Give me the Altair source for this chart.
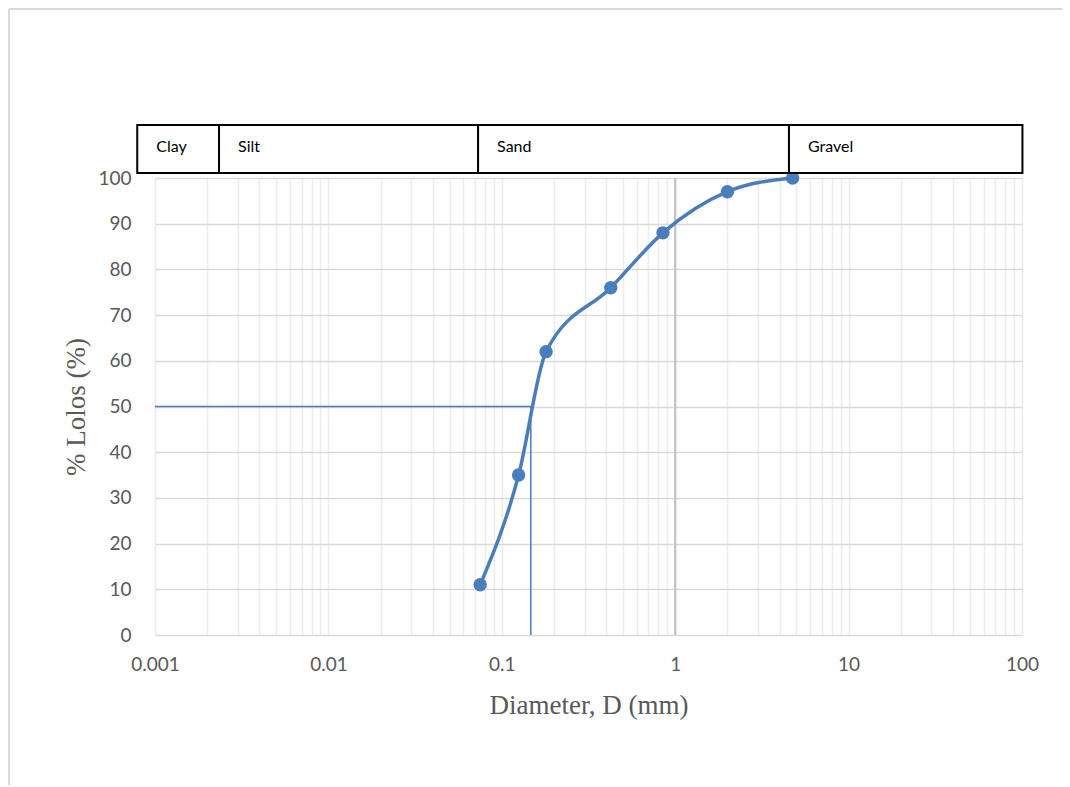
import altair as alt
import pandas as pd

# sieve data
diameter = [0.075, 0.125, 0.18, 0.425, 0.85, 2.0, 4.75]
passing = [11, 35, 62, 76, 88, 97, 100]

# D50 reading
d50 = 0.147
p50 = 50

# soil classification bands
band_names = ["Clay", "Silt", "Sand", "Gravel"]
band_start = [0.00079, 0.00234, 0.073, 4.53]
band_end = [0.00234, 0.073, 4.53, 100.6]

decades = [0.001, 0.01, 0.1, 1, 10, 100]
decade_labels = ["0.001", "0.01", "0.1", "1", "10", "100"]
y_ticks = list(range(0, 101, 10))

grid_vals = [round(d * m, 6) for d in decades[:-1] for m in range(1, 10)] + [100]

BLUE = "#4a7ebb"
LABEL_FONT = "Lato"
TITLE_FONT = "Liberation Serif"

pts = pd.DataFrame({"d": diameter, "p": passing})
bands = pd.DataFrame({"name": band_names, "x0": band_start, "x1": band_end})

xscale = alt.Scale(type="log", domain=[0.001, 100])
yscale = alt.Scale(domain=[0, 100], nice=False)

label_expr = "indexof(" + str(decade_labels) + ", datum.label) >= 0 ? datum.label : ''"

x_axis = alt.Axis(
    values=grid_vals, format="~g", labelExpr=label_expr,
    grid=True, gridColor="#ececec", gridWidth=1.5,
    ticks=False, domain=False, labelFont=LABEL_FONT, labelFontSize=19,
    labelColor="#595959", labelPadding=20, labelFlush=False,
    title="Diameter, D (mm)", titleFont=TITLE_FONT, titleFontSize=27,
    titleFontWeight="normal", titleColor="#595959", titlePadding=18,
)
y_axis = alt.Axis(
    values=y_ticks, grid=True, gridColor="#d9d9d9", gridWidth=1.5,
    ticks=False, domain=False, labelFont=LABEL_FONT, labelFontSize=19,
    labelColor="#595959", labelPadding=24,
    title="% Lolos (%)", titleFont=TITLE_FONT, titleFontSize=27,
    titleFontWeight="normal", titleColor="#595959", titlePadding=7,
)

base = alt.Chart(pts)

grid = base.mark_point(opacity=0).encode(
    x=alt.X("d:Q", scale=xscale, axis=x_axis),
    y=alt.Y("p:Q", scale=yscale, axis=y_axis),
)

one_line = alt.Chart(pd.DataFrame({"x": [1], "y0": [0], "y1": [100]})).mark_rule(
    color="#bfbfbf", strokeWidth=2
).encode(x=alt.X("x:Q", scale=xscale), y=alt.Y("y0:Q", scale=yscale), y2="y1:Q")

d50_df = pd.DataFrame({"x0": [0.001, d50], "x1": [d50, d50], "y0": [p50, 0], "y1": [p50, p50]})
d50_lines = alt.Chart(d50_df).mark_rule(color=BLUE, strokeWidth=1.5).encode(
    x=alt.X("x0:Q", scale=xscale), x2="x1:Q",
    y=alt.Y("y0:Q", scale=yscale), y2="y1:Q",
)

curve = base.mark_line(color=BLUE, strokeWidth=3.5, interpolate="monotone").encode(
    x=alt.X("d:Q", scale=xscale), y=alt.Y("p:Q", scale=yscale)
)
dots = base.mark_circle(color=BLUE, size=180, opacity=1).encode(
    x=alt.X("d:Q", scale=xscale), y=alt.Y("p:Q", scale=yscale)
)

boxes = alt.Chart(bands).mark_rect(
    fill="white", stroke="black", strokeWidth=2, clip=False
).encode(
    x=alt.X("x0:Q", scale=xscale), x2="x1:Q",
    y=alt.value(-53), y2=alt.value(-5),
)
box_text = alt.Chart(bands).mark_text(
    align="left", baseline="middle", dx=19, font=LABEL_FONT, fontSize=16, color="black"
).encode(
    x=alt.X("x0:Q", scale=xscale), y=alt.value(-31), text="name:N"
)

frame = alt.Chart(pd.DataFrame({"k": [0, 1]})).mark_rule(
    color="#d9d9d9", strokeWidth=2
).encode(
    x=alt.value(-146), x2=alt.value(915), y=alt.value(-169), y2=alt.value(-169)
)
frame2 = alt.Chart(pd.DataFrame({"k": [0]})).mark_rule(
    color="#d9d9d9", strokeWidth=2
).encode(
    x=alt.value(-146), y=alt.value(-169), y2=alt.value(609)
)

chart = alt.layer(
    grid, one_line, d50_lines, curve, dots, boxes, box_text, frame, frame2
).properties(
    width=867, height=457,
    autosize=alt.AutoSizeParams(type="none"),
    padding={"left": 147, "top": 170, "right": 40, "bottom": 150},
).configure_view(stroke=None).configure(background="white")

chart.save("out.html", embed_options={"renderer": "svg", "actions": False})
